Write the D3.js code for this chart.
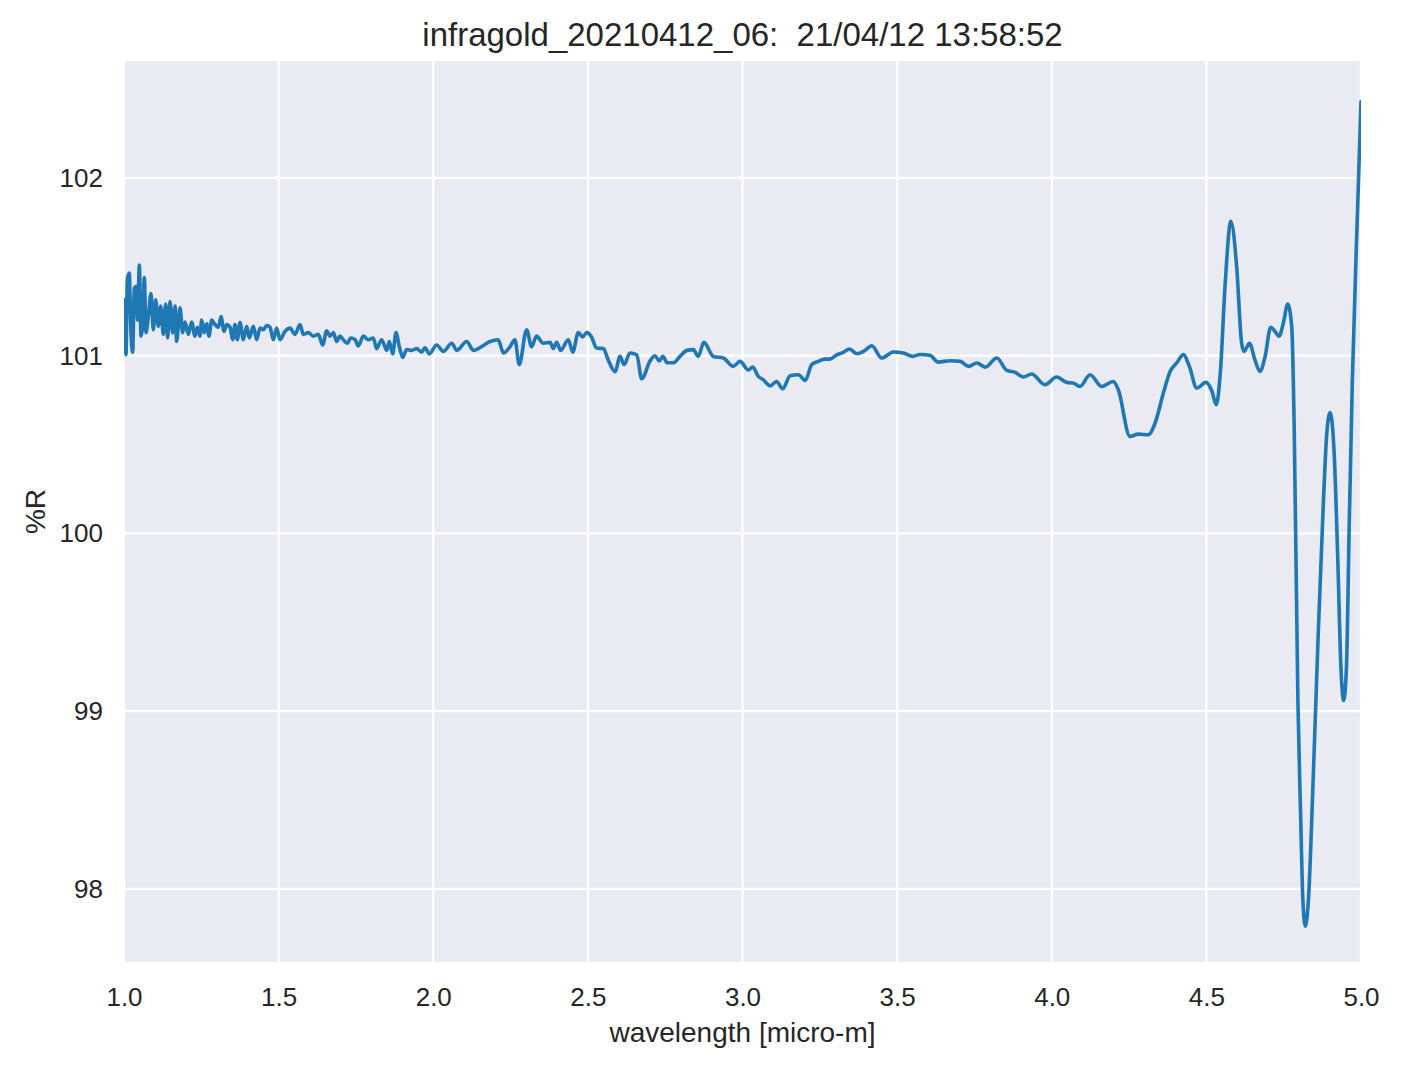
<!DOCTYPE html>
<html>
<head>
<meta charset="utf-8">
<script src="https://cdn.jsdelivr.net/npm/d3@7"></script>
<style>
  html, body { margin: 0; padding: 0; background: #ffffff; }
  svg { display: block; }
  text { font-family: "Liberation Sans", Arial, sans-serif; fill: #262626; }
</style>
</head>
<body>
<svg id="chart" width="1402" height="1069"></svg>
<script>
const chartTitle = "infragold_20210412_06:  21/04/12 13:58:52";
const xLabel = "wavelength [micro-m]";
const yLabel = "%R";
const xTicks = [1.0, 1.5, 2.0, 2.5, 3.0, 3.5, 4.0, 4.5, 5.0];
const yTicks = [98, 99, 100, 101, 102];

const wavelength = [
  1.001, 1.0065, 1.0108, 1.0172, 1.0216, 1.028, 1.0334, 1.0388, 1.0442, 1.0496,
  1.055, 1.0604, 1.0657, 1.0711, 1.0787, 1.0873, 1.0949, 1.1024, 1.111, 1.1186,
  1.1272, 1.1347, 1.1412, 1.1487, 1.1574, 1.1649, 1.1703, 1.1811, 1.1897, 1.1973,
  1.208, 1.2188, 1.2296, 1.2371, 1.2458, 1.2511, 1.2598, 1.2673, 1.2749, 1.2835,
  1.2943, 1.305, 1.3137, 1.3234, 1.332, 1.3428, 1.3514, 1.3589, 1.3665, 1.3751,
  1.3859, 1.3967, 1.4053, 1.4182, 1.429, 1.4398, 1.4506, 1.4613, 1.4721, 1.4829,
  1.4937, 1.5044, 1.5206, 1.5368, 1.553, 1.5691, 1.5799, 1.5961, 1.6122, 1.6284,
  1.6424, 1.6553, 1.6661, 1.6769, 1.6877, 1.6985, 1.7092, 1.7222, 1.733, 1.747,
  1.7577, 1.7739, 1.7901, 1.8062, 1.817, 1.8332, 1.8494, 1.858, 1.8688, 1.8796,
  1.8903, 1.9011, 1.9141, 1.9302, 1.9464, 1.9625, 1.9733, 1.9873,
  2.011, 2.033, 2.06, 2.076, 2.108, 2.13, 2.151, 2.184, 2.21, 2.227,
  2.248, 2.264, 2.278, 2.302, 2.318, 2.334, 2.356, 2.378, 2.388, 2.399,
  2.412, 2.437, 2.451, 2.469, 2.483, 2.496, 2.512, 2.528, 2.55, 2.566,
  2.588, 2.604, 2.617, 2.636, 2.658, 2.674, 2.701, 2.717, 2.731, 2.742,
  2.757, 2.776, 2.798, 2.82, 2.841, 2.857, 2.875, 2.906, 2.938, 2.97, 2.992,
  3.019, 3.033, 3.051, 3.067, 3.089, 3.11, 3.13, 3.154, 3.181, 3.203,
  3.224, 3.245, 3.267, 3.283, 3.305, 3.326, 3.346, 3.37, 3.391, 3.418,
  3.45, 3.488, 3.52, 3.551, 3.574, 3.606, 3.633, 3.671, 3.704, 3.731,
  3.758, 3.785, 3.822, 3.855, 3.882, 3.908, 3.935, 3.978, 4.016, 4.048,
  4.07, 4.091, 4.124, 4.161, 4.199, 4.215,
  4.253, 4.28, 4.312, 4.334, 4.361, 4.383, 4.404, 4.426, 4.445, 4.469,
  4.499, 4.518, 4.532, 4.545, 4.561, 4.579, 4.598, 4.614, 4.622, 4.639,
  4.657, 4.673, 4.69, 4.708, 4.722, 4.735, 4.749, 4.763, 4.776, 4.784,
  4.796, 4.805, 4.812, 4.82, 4.83, 4.846, 4.862, 4.878, 4.889, 4.9,
  4.913, 4.925, 4.935, 4.944, 4.953, 4.962, 4.972, 4.99, 5.0
];

const reflectance = [
  101.315, 101.005, 101.43, 101.465, 101.18, 101.02, 101.38, 101.39, 101.2, 101.51,
  101.11, 101.165, 101.44, 101.13, 101.22, 101.35, 101.146, 101.315, 101.165, 101.28,
  101.12, 101.29, 101.1, 101.305, 101.128, 101.28, 101.08, 101.27, 101.13, 101.19,
  101.12, 101.19, 101.11, 101.16, 101.11, 101.2, 101.13, 101.18, 101.11, 101.2,
  101.175, 101.16, 101.22, 101.137, 101.175, 101.16, 101.09, 101.175, 101.09, 101.187,
  101.09, 101.165, 101.1, 101.165, 101.09, 101.155, 101.147, 101.17, 101.16, 101.09,
  101.155, 101.09, 101.137, 101.155, 101.12, 101.175, 101.12, 101.13, 101.11, 101.12,
  101.06, 101.14, 101.11, 101.13, 101.08, 101.11, 101.09, 101.07, 101.1, 101.09,
  101.055, 101.11, 101.09, 101.1, 101.04, 101.09, 101.03, 101.08, 101.01, 101.13,
  101.05, 100.99, 101.035, 101.03, 101.04, 101.02, 101.045, 101.01,
  101.06, 101.024, 101.07, 101.03, 101.08, 101.03, 101.045, 101.08, 101.09, 101.015,
  101.05, 101.09, 100.95, 101.146, 101.05, 101.11, 101.07, 101.075, 101.04, 101.075,
  101.03, 101.09, 101.02, 101.13, 101.105, 101.13, 101.105, 101.043, 101.04, 100.975,
  100.91, 100.996, 100.95, 101.015, 101.005, 100.87, 100.97, 101.0, 100.97, 100.996,
  100.96, 100.96, 100.996, 101.03, 101.034, 100.996, 101.075, 100.996, 100.987, 100.94, 100.968,
  100.92, 100.936, 100.884, 100.865, 100.83, 100.855, 100.814, 100.887, 100.893, 100.861,
  100.95, 100.968, 100.981, 100.981, 101.005, 101.019, 101.038, 101.011, 101.024, 101.056,
  100.987, 101.021, 101.015, 100.996, 101.007, 101.002, 100.964, 100.972, 100.968, 100.94,
  100.959, 100.936, 100.987, 100.917, 100.906, 100.88, 100.897, 100.837, 100.88, 100.85,
  100.846, 100.827, 100.893, 100.827, 100.855, 100.81,
  100.546, 100.559, 100.555, 100.62, 100.79, 100.912, 100.959, 101.006, 100.94, 100.818,
  100.85, 100.8, 100.724, 100.902, 101.41, 101.756, 101.5, 101.07, 101.024, 101.07,
  100.977, 100.912, 100.996, 101.16, 101.137, 101.11, 101.184, 101.29, 101.165, 100.6,
  99.05, 98.4, 97.94, 97.79, 97.94, 98.65, 99.45, 100.16, 100.555, 100.68,
  100.46, 99.85, 99.25, 99.06, 99.25, 100.055, 100.86, 101.88, 102.43
];

const W = 1402, H = 1069;
const margin = { left: 124, right: W - 1361, top: 61, bottom: H - 962 };
const svg = d3.select("#chart");

const x = d3.scaleLinear().domain([1.0, 5.0]).range([margin.left, W - margin.right]);
const y = d3.scaleLinear().domain([97.589, 102.658]).range([H - margin.bottom, margin.top]);

// plot background
svg.append("rect")
  .attr("x", x.range()[0]).attr("y", y.range()[1])
  .attr("width", x.range()[1] - x.range()[0])
  .attr("height", y.range()[0] - y.range()[1])
  .attr("fill", "#eaeaf2");

// grid
const grid = svg.append("g");
grid.selectAll("line.vx").data(xTicks).enter().append("line")
  .attr("x1", d => x(d)).attr("x2", d => x(d))
  .attr("y1", y.range()[1]).attr("y2", y.range()[0])
  .attr("stroke", "#ffffff").attr("stroke-width", 2.2);
grid.selectAll("line.hy").data(yTicks).enter().append("line")
  .attr("x1", x.range()[0]).attr("x2", x.range()[1])
  .attr("y1", d => y(d)).attr("y2", d => y(d))
  .attr("stroke", "#ffffff").attr("stroke-width", 2.2);

// clip
svg.append("clipPath").attr("id", "clip").append("rect")
  .attr("x", x.range()[0]).attr("y", y.range()[1])
  .attr("width", x.range()[1] - x.range()[0])
  .attr("height", y.range()[0] - y.range()[1]);

const data = wavelength.map((w, i) => ({ w, r: reflectance[i] }));
const line = d3.line().x(d => x(d.w)).y(d => y(d.r)).curve(d3.curveMonotoneX);

svg.append("path")
  .datum(data)
  .attr("clip-path", "url(#clip)")
  .attr("d", line)
  .attr("fill", "none")
  .attr("stroke", "#1f77b4")
  .attr("stroke-width", 3.6)
  .attr("stroke-linejoin", "round")
  .attr("stroke-linecap", "round");

// axes (labels only, no spines/ticks)
const xAxis = d3.axisBottom(x).tickValues(xTicks).tickFormat(d3.format(".1f")).tickSize(0).tickPadding(26);
const gx = svg.append("g").attr("transform", `translate(0,${y.range()[0]})`).call(xAxis);
gx.select(".domain").remove();
gx.selectAll("text").attr("font-size", 26).attr("fill", "#262626")
  .attr("font-family", "'Liberation Sans', Arial, sans-serif");

const yAxis = d3.axisLeft(y).tickValues(yTicks).tickFormat(d3.format("d")).tickSize(0).tickPadding(21);
const gy = svg.append("g").attr("transform", `translate(${x.range()[0]},0)`).call(yAxis);
gy.select(".domain").remove();
gy.selectAll("text").attr("font-size", 26).attr("fill", "#262626")
  .attr("font-family", "'Liberation Sans', Arial, sans-serif");

// title
svg.append("text")
  .attr("x", (x.range()[0] + x.range()[1]) / 2).attr("y", 46)
  .attr("text-anchor", "middle").attr("font-size", 33)
  .style("white-space", "pre")
  .attr("xml:space", "preserve")
  .text(chartTitle);

// x label
svg.append("text")
  .attr("x", (x.range()[0] + x.range()[1]) / 2).attr("y", 1042)
  .attr("text-anchor", "middle").attr("font-size", 28)
  .text(xLabel);

// y label
svg.append("text")
  .attr("transform", `translate(45,${(y.range()[0] + y.range()[1]) / 2}) rotate(-90)`)
  .attr("text-anchor", "middle").attr("font-size", 28)
  .text(yLabel);
</script>
</body>
</html>
